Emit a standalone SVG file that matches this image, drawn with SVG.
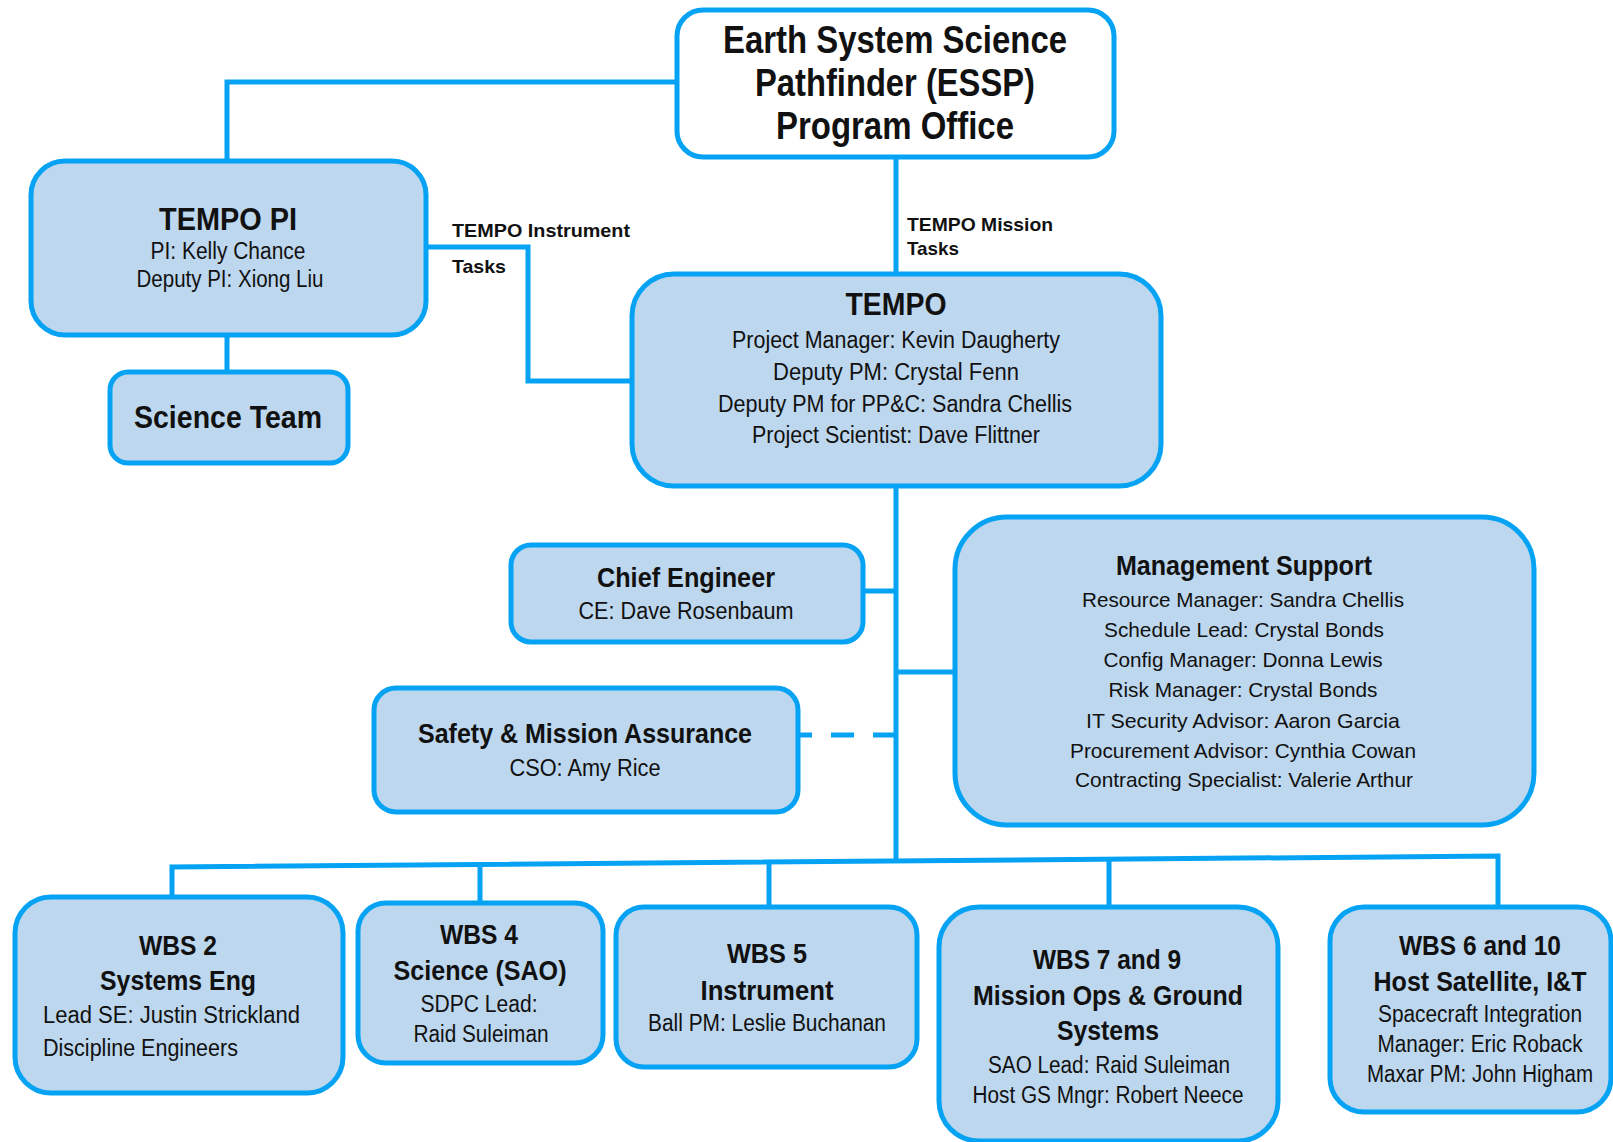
<svg xmlns="http://www.w3.org/2000/svg" width="1613" height="1142" viewBox="0 0 1613 1142">
<style>
.box{fill:#BDD7EE;stroke:#06A3F4;stroke-width:5}
.white{fill:#FFFFFF}
.ln{fill:none;stroke:#06A3F4;stroke-width:5}
.dash{stroke-dasharray:23 19}
text{font-family:"Liberation Sans Narrow","Liberation Sans",Arial,sans-serif;fill:#111;text-anchor:middle}
.b{font-weight:bold}
.l{text-anchor:start}
.h1{font-size:39px}
.h2{font-size:31px}
.h3{font-size:28px}
.p{font-size:23px}
.s{font-size:21px}
.lab{font-size:19px;font-weight:bold}
</style>
<rect x="0" y="0" width="1613" height="1142" fill="#FFFFFF"/>
<g id="connectors">
<path class="ln" d="M677,82 H227 V161"/>
<path class="ln" d="M227,335 V372"/>
<path class="ln" d="M426,247 H528 V381 H633"/>
<path class="ln" d="M896,157 V274"/>
<path class="ln" d="M896,486 V861"/>
<path class="ln" d="M863,591 H896"/>
<path class="ln dash" d="M896,735 H798"/>
<path class="ln" d="M896,672 H955"/>
<path class="ln" d="M172,897 V867 L1498,856 V907"/>
<path class="ln" d="M480,865 V903"/>
<path class="ln" d="M769,862 V907"/>
<path class="ln" d="M1109,859 V907"/>
<text class="lab l" x="452" y="237" textLength="178" lengthAdjust="spacingAndGlyphs">TEMPO Instrument</text>
<text class="lab l" x="452" y="273" textLength="54" lengthAdjust="spacingAndGlyphs">Tasks</text>
<text class="lab l" x="907" y="231" textLength="146" lengthAdjust="spacingAndGlyphs">TEMPO Mission</text>
<text class="lab l" x="907" y="255" textLength="52" lengthAdjust="spacingAndGlyphs">Tasks</text>
</g>
<g id="essp">
<rect class="box white" x="677" y="10" width="437" height="147" rx="26"/>
<text class="b h1" x="895" y="53" textLength="344" lengthAdjust="spacingAndGlyphs">Earth System Science</text>
<text class="b h1" x="895" y="96" textLength="280" lengthAdjust="spacingAndGlyphs">Pathfinder (ESSP)</text>
<text class="b h1" x="895" y="139" textLength="238" lengthAdjust="spacingAndGlyphs">Program Office</text>
</g>
<g id="tempo-pi">
<rect class="box" x="31" y="161" width="395" height="174" rx="34"/>
<text class="b h2" x="228" y="230" textLength="138" lengthAdjust="spacingAndGlyphs">TEMPO PI</text>
<text class="p" x="228" y="259" textLength="155" lengthAdjust="spacingAndGlyphs">PI: Kelly Chance</text>
<text class="p" x="230" y="287" textLength="187" lengthAdjust="spacingAndGlyphs">Deputy PI: Xiong Liu</text>
</g>
<g id="science-team">
<rect class="box" x="110" y="372" width="238" height="91" rx="18"/>
<text class="b h2" x="228" y="428" textLength="188" lengthAdjust="spacingAndGlyphs">Science Team</text>
</g>
<g id="tempo">
<rect class="box" x="632" y="274" width="529" height="212" rx="42"/>
<text class="b h2" x="896" y="315" textLength="101" lengthAdjust="spacingAndGlyphs">TEMPO</text>
<text class="p" x="896" y="348" textLength="328" lengthAdjust="spacingAndGlyphs">Project Manager: Kevin Daugherty</text>
<text class="p" x="896" y="380" textLength="246" lengthAdjust="spacingAndGlyphs">Deputy PM:  Crystal Fenn</text>
<text class="p" x="895" y="412" textLength="354" lengthAdjust="spacingAndGlyphs">Deputy PM for PP&amp;C: Sandra Chellis</text>
<text class="p" x="896" y="443" textLength="288" lengthAdjust="spacingAndGlyphs">Project Scientist: Dave Flittner</text>
</g>
<g id="chief-engineer">
<rect class="box" x="511" y="545" width="352" height="97" rx="20"/>
<text class="b h3" x="686" y="587" textLength="178" lengthAdjust="spacingAndGlyphs">Chief Engineer</text>
<text class="p" x="686" y="619" textLength="215" lengthAdjust="spacingAndGlyphs">CE: Dave Rosenbaum</text>
</g>
<g id="safety">
<rect class="box" x="374" y="688" width="424" height="124" rx="22"/>
<text class="b h3" x="585" y="743" textLength="334" lengthAdjust="spacingAndGlyphs">Safety &amp; Mission Assurance</text>
<text class="p" x="585" y="776" textLength="151" lengthAdjust="spacingAndGlyphs">CSO: Amy Rice</text>
</g>
<g id="management-support">
<rect class="box" x="955" y="517" width="579" height="308" rx="52"/>
<text class="b h3" x="1244" y="575" textLength="256" lengthAdjust="spacingAndGlyphs">Management Support</text>
<text class="s" x="1243" y="607" textLength="322" lengthAdjust="spacingAndGlyphs">Resource Manager: Sandra Chellis</text>
<text class="s" x="1244" y="637" textLength="280" lengthAdjust="spacingAndGlyphs">Schedule Lead: Crystal Bonds</text>
<text class="s" x="1243" y="667" textLength="279" lengthAdjust="spacingAndGlyphs">Config Manager: Donna Lewis</text>
<text class="s" x="1243" y="697" textLength="269" lengthAdjust="spacingAndGlyphs">Risk Manager: Crystal Bonds</text>
<text class="s" x="1243" y="728" textLength="314" lengthAdjust="spacingAndGlyphs">IT Security Advisor:  Aaron Garcia</text>
<text class="s" x="1243" y="758" textLength="346" lengthAdjust="spacingAndGlyphs">Procurement Advisor: Cynthia Cowan</text>
<text class="s" x="1244" y="787" textLength="338" lengthAdjust="spacingAndGlyphs">Contracting Specialist: Valerie Arthur</text>
</g>
<g id="wbs2">
<rect class="box" x="15" y="897" width="328" height="196" rx="36"/>
<text class="b h3" x="178" y="955" textLength="78" lengthAdjust="spacingAndGlyphs">WBS 2</text>
<text class="b h3" x="178" y="990" textLength="156" lengthAdjust="spacingAndGlyphs">Systems Eng</text>
<text class="p l" x="43" y="1023" textLength="257" lengthAdjust="spacingAndGlyphs">Lead SE:  Justin Strickland</text>
<text class="p l" x="43" y="1056" textLength="195" lengthAdjust="spacingAndGlyphs">Discipline Engineers</text>
</g>
<g id="wbs4">
<rect class="box" x="358" y="903" width="245" height="160" rx="28"/>
<text class="b h3" x="479" y="944" textLength="78" lengthAdjust="spacingAndGlyphs">WBS 4</text>
<text class="b h3" x="480" y="980" textLength="173" lengthAdjust="spacingAndGlyphs">Science (SAO)</text>
<text class="p" x="479" y="1012" textLength="117" lengthAdjust="spacingAndGlyphs">SDPC Lead:</text>
<text class="p" x="481" y="1042" textLength="135" lengthAdjust="spacingAndGlyphs">Raid Suleiman</text>
</g>
<g id="wbs5">
<rect class="box" x="616" y="907" width="301" height="160" rx="28"/>
<text class="b h3" x="767" y="963" textLength="80" lengthAdjust="spacingAndGlyphs">WBS 5</text>
<text class="b h3" x="767" y="1000" textLength="133" lengthAdjust="spacingAndGlyphs">Instrument</text>
<text class="p" x="767" y="1031" textLength="238" lengthAdjust="spacingAndGlyphs">Ball PM: Leslie Buchanan</text>
</g>
<g id="wbs7-9">
<rect class="box" x="939" y="907" width="339" height="234" rx="40"/>
<text class="b h3" x="1107" y="969" textLength="148" lengthAdjust="spacingAndGlyphs">WBS 7 and 9</text>
<text class="b h3" x="1108" y="1005" textLength="270" lengthAdjust="spacingAndGlyphs">Mission Ops &amp; Ground</text>
<text class="b h3" x="1108" y="1040" textLength="102" lengthAdjust="spacingAndGlyphs">Systems</text>
<text class="p" x="1109" y="1073" textLength="242" lengthAdjust="spacingAndGlyphs">SAO Lead: Raid Suleiman</text>
<text class="p" x="1108" y="1103" textLength="271" lengthAdjust="spacingAndGlyphs">Host GS Mngr: Robert Neece</text>
</g>
<g id="wbs6-10">
<rect class="box" x="1330" y="907" width="281" height="205" rx="34"/>
<text class="b h3" x="1480" y="955" textLength="162" lengthAdjust="spacingAndGlyphs">WBS 6 and 10</text>
<text class="b h3" x="1480" y="991" textLength="213" lengthAdjust="spacingAndGlyphs">Host Satellite, I&amp;T</text>
<text class="p" x="1480" y="1022" textLength="204" lengthAdjust="spacingAndGlyphs">Spacecraft Integration</text>
<text class="p" x="1480" y="1052" textLength="205" lengthAdjust="spacingAndGlyphs">Manager: Eric Roback</text>
<text class="p" x="1480" y="1082" textLength="226" lengthAdjust="spacingAndGlyphs">Maxar PM: John Higham</text>
</g>
</svg>
